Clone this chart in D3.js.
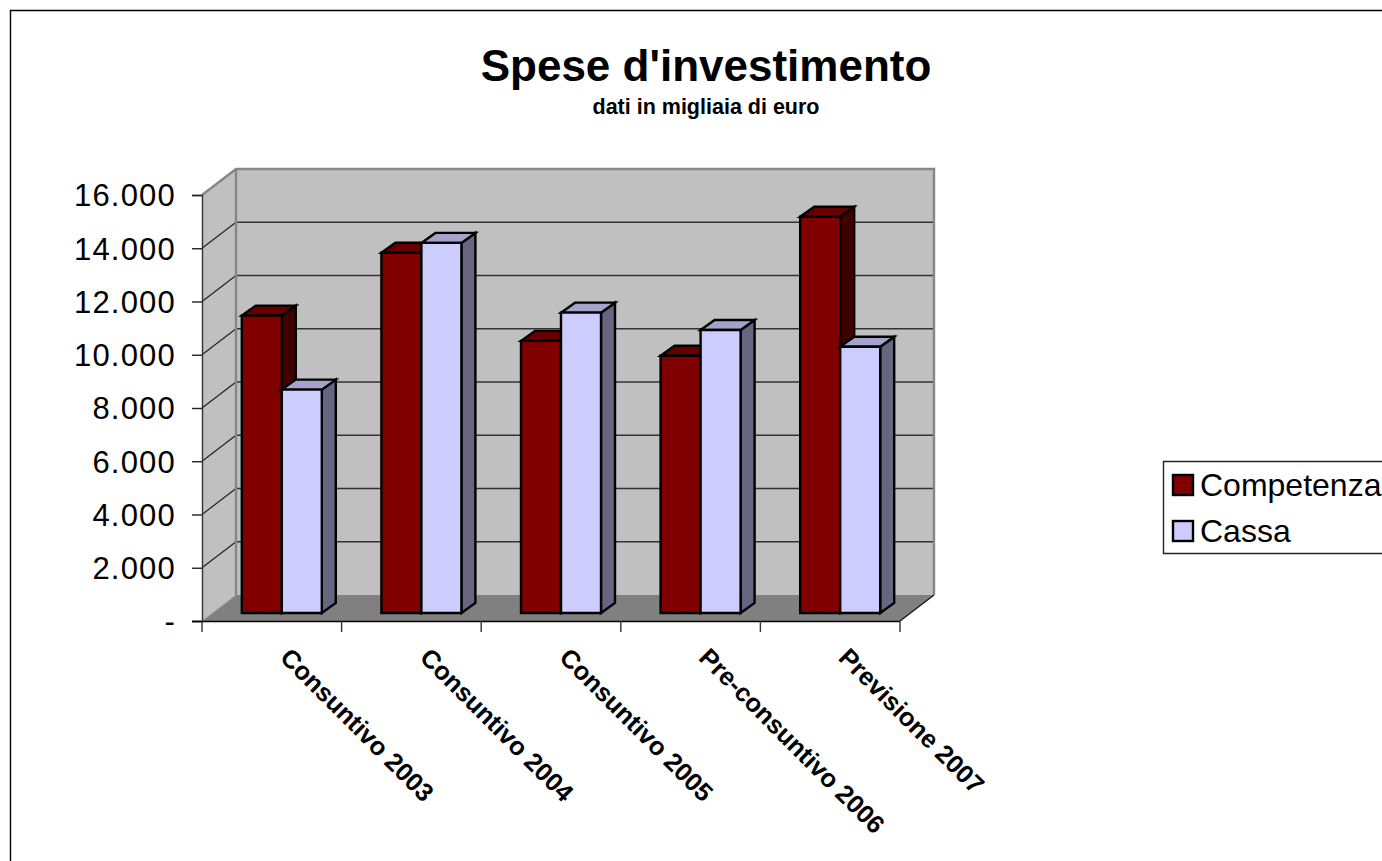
<!DOCTYPE html>
<html><head><meta charset="utf-8">
<script src="https://cdn.jsdelivr.net/npm/d3@7"></script>
<style>html,body{margin:0;padding:0;background:#fff}svg{display:block}text{font-family:"Liberation Sans",Arial,sans-serif}</style>
</head><body><svg id="c" width="1382" height="861"></svg>
<script>
const categories=["Consuntivo 2003","Consuntivo 2004","Consuntivo 2005","Pre-consuntivo 2006","Previsione 2007"];
const seriesNames=["Competenza","Cassa"];
const competenza=[11170,13530,10220,9660,14880];
const cassa=[8390,13900,11280,10630,10000];
const yTicks=[0,2000,4000,6000,8000,10000,12000,14000,16000];
const yTickLabels=["-","2.000","4.000","6.000","8.000","10.000","12.000","14.000","16.000"];
const faceColors=["#800000","#ccccff"],topColors=["#660000","#a3a3cc"],sideColors=["#400000","#666680"];

const svg=d3.select("#c");
const x=d3.scaleBand().domain(categories).range([202,900]);
const y=d3.scaleLinear().domain([0,16000]).range([621,195]);
const wallDx=34,wallDy=-26,barDx=10,barDy=-8,depthX=14,depthY=-10;
const line=d3.line();
const poly=(pts,fill,stroke,sw)=>svg.append("path").attr("d",line(pts)+"Z").attr("fill",fill).attr("stroke",stroke||"none").attr("stroke-width",sw||0).attr("stroke-linejoin","miter");

// frame
svg.append("path").attr("d","M10.5,861V10.5H1382").attr("fill","none").attr("stroke","#000").attr("stroke-width",1.4);

const x0=x.range()[0],x1=x.range()[1],y0=y(0),yT=y(16000);
// walls and floor
poly([[x0,y0],[x0+wallDx,y0+wallDy],[x0+wallDx,yT+wallDy],[x0,yT]],"#c0c0c0");
poly([[x0+wallDx,y0+wallDy],[x1+wallDx,y0+wallDy],[x1+wallDx,yT+wallDy],[x0+wallDx,yT+wallDy]],"#c0c0c0");
poly([[x0,y0],[x0+wallDx,y0+wallDy],[x1+wallDx,y0+wallDy],[x1,y0]],"#808080");
// gridlines
yTicks.slice(1).forEach(t=>{
  const g=y(t);
  if(t<16000) svg.append("line").attr("x1",x0+wallDx).attr("x2",x1+wallDx).attr("y1",g+wallDy).attr("y2",g+wallDy).attr("stroke","#333").attr("stroke-width",1.4);
  if(t<16000) svg.append("line").attr("x1",x0).attr("x2",x0+wallDx).attr("y1",g).attr("y2",g+wallDy).attr("stroke","#222").attr("stroke-width",1.2);
});
// wall edges
svg.append("path").attr("d",`M${x0},${yT}L${x0+wallDx},${yT+wallDy}H${x1+wallDx}V${y0+wallDy}`).attr("fill","none").attr("stroke","#868686").attr("stroke-width",2.4);
svg.append("path").attr("d",`M${x0+wallDx},${yT+wallDy}V${y0+wallDy}`).attr("fill","none").attr("stroke","#868686").attr("stroke-width",2.4);
svg.append("path").attr("d",`M${x0},${y0}L${x0+wallDx},${y0+wallDy}`).attr("fill","none").attr("stroke","#a0a0a0").attr("stroke-width",1);
svg.append("path").attr("d",`M${x1},${y0}L${x1+wallDx},${y0+wallDy}`).attr("fill","none").attr("stroke","#111").attr("stroke-width",1.2);

// axes
const yAxis=d3.axisLeft(y).tickValues(yTicks).tickSize(10).tickPadding(16).tickFormat((d,i)=>yTickLabels[i]);
const gy=svg.append("g").attr("transform",`translate(${x0},0)`).call(yAxis);
gy.select(".domain").attr("stroke","#333").attr("stroke-width",1.4);
gy.selectAll("line").attr("stroke","#222").attr("stroke-width",1.4);
gy.selectAll("text").attr("font-size",31).attr("fill","#000").attr("letter-spacing",1.2).attr("y",1).style("font-family",'"Liberation Sans",Arial,sans-serif');

const bottom=svg.append("g");
bottom.append("line").attr("x1",x0-10).attr("x2",x1).attr("y1",y0+.5).attr("y2",y0+.5).attr("stroke","#000").attr("stroke-width",1.4);
const xt=d3.range(categories.length+1).map(i=>x0+i*x.step());
bottom.selectAll("line.t").data(xt).join("line").attr("class","t").attr("x1",d=>d).attr("x2",d=>d).attr("y1",y0).attr("y2",y0+11).attr("stroke","#333").attr("stroke-width",1.4);
// category labels
svg.append("g").selectAll("text").data(categories).join("text")
 .attr("transform",d=>`translate(${x(d)+x.step()/2+7},${659}) rotate(45)`)
 .attr("font-size",25.5).attr("font-weight","bold").attr("fill","#000").text(d=>d);

// bars
const barW=40,base=y0+barDy;
const yv=v=>y(v)+barDy;
categories.forEach((c,i)=>{
  const left=x(c)+(x.step()-2*barW)/2+barDx;
  [competenza[i],cassa[i]].forEach((v,s)=>{
    const L=left+s*barW,R=L+barW,T=yv(v),B=base;
    poly([[R,B],[R+depthX,B+depthY],[R+depthX,T+depthY],[R,T]],sideColors[s],"#000",2.4);
    poly([[L,T],[L+depthX,T+depthY],[R+depthX,T+depthY],[R,T]],topColors[s],"#000",2.4);
    poly([[L,T],[R,T],[R,B],[L,B]],faceColors[s],"#000",2.4);
  });
});

// titles
svg.append("text").attr("x",706).attr("y",81).attr("text-anchor","middle").attr("font-size",44).attr("font-weight","bold").text("Spese d'investimento");
svg.append("text").attr("x",706).attr("y",114).attr("text-anchor","middle").attr("font-size",21.5).attr("font-weight","bold").text("dati in migliaia di euro");

// legend
svg.append("path").attr("d","M1382,461.5H1163.5V553.5H1382").attr("fill","#fff").attr("stroke","#222").attr("stroke-width",1.4);
seriesNames.forEach((n,i)=>{
  const cy=485+i*46;
  svg.append("rect").attr("x",1173).attr("y",cy-10).attr("width",20).attr("height",20).attr("fill",faceColors[i]).attr("stroke","#000").attr("stroke-width",2.4);
  svg.append("text").attr("x",1200).attr("y",cy+11).attr("font-size",32).text(n);
});
</script></body></html>
